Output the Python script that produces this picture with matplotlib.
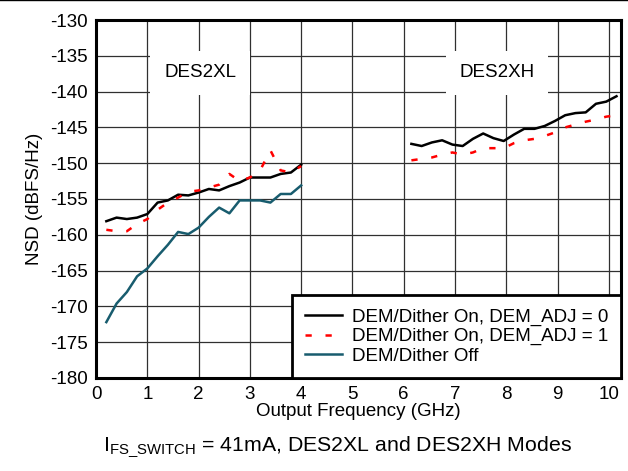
import numpy as np
import matplotlib.pyplot as plt
from matplotlib.lines import Line2D

plt.rcParams['font.family'] = ['Liberation Sans', 'DejaVu Sans']
plt.rcParams['mathtext.fontset'] = 'custom'
plt.rcParams['mathtext.rm'] = 'Liberation Sans'
plt.rcParams['axes.unicode_minus'] = False

# DES2XL (left) data
freq_xl = [0.2, 0.4, 0.6, 0.8, 1.0, 1.2, 1.4, 1.6, 1.8, 2.0,
           2.2, 2.4, 2.6, 2.8, 3.0, 3.2, 3.4, 3.6, 3.8, 4.0]
adj0_xl = [-158.1, -157.6, -157.8, -157.6, -157.1, -155.5, -155.2, -154.4, -154.5, -154.1,
           -153.6, -153.8, -153.2, -152.7, -152.0, -152.0, -152.0, -151.5, -151.3, -150.2]
adj1_xl = [-159.3, -159.5, -159.5, -158.5, -157.8, -156.5, -155.5, -154.8, -154.0, -153.8,
           -153.4, -153.0, -151.5, -152.5, -152.0, -151.0, -148.2, -151.0, -151.3, -150.4]
off_xl = [-172.2, -169.6, -168.0, -165.8, -164.7, -163.0, -161.4, -159.6, -159.9, -159.0,
          -157.5, -156.2, -157.0, -155.2, -155.2, -155.2, -155.5, -154.3, -154.3, -153.1]

# DES2XH (right) data
freq_xh = [6.15, 6.35, 6.55, 6.75, 6.95, 7.15, 7.35, 7.55, 7.75, 7.95, 8.15,
           8.35, 8.55, 8.75, 8.95, 9.15, 9.35, 9.55, 9.75, 9.95, 10.15]
adj0_xh = [-147.3, -147.6, -147.1, -146.8, -147.4, -147.6, -146.6, -145.85, -146.5, -146.9, -146.0,
           -145.2, -145.2, -144.8, -144.1, -143.3, -143.0, -142.9, -141.7, -141.4, -140.65]
adj1_xh = [-149.6, -149.4, -149.2, -148.8, -148.5, -148.8, -148.5, -147.9, -147.9, -147.9, -147.2,
           -146.8, -146.6, -146.2, -145.7, -145.0, -144.6, -144.2, -143.9, -143.5, -143.3]

xticks = list(range(0, 11))
yticks = list(range(-180, -129, 5))

teal = '#185C6E'

fig = plt.figure(figsize=(6.28, 4.71), dpi=100)
ax = fig.add_axes([0.153, 0.1975, 0.836, 0.76])

# Curves
ax.plot(freq_xl, adj0_xl, color='black', lw=1.8, label='DEM/Dither On, DEM_ADJ = 0')
ax.plot(freq_xh, adj0_xh, color='black', lw=1.8)
ax.plot(freq_xl, adj1_xl, color='red', lw=1.8, dashes=(2.5, 5.5),
        label='DEM/Dither On, DEM_ADJ = 1')
ax.plot(freq_xh, adj1_xh, color='red', lw=1.8, dashes=(2.5, 5.5))
ax.plot(freq_xl, off_xl, color=teal, lw=1.8, label='DEM/Dither Off')

ax.set_xlim(0, 10.24)
ax.set_ylim(-180, -130)
ax.set_xticks(xticks)
ax.set_yticks(yticks)
ax.tick_params(length=0, labelsize=13.5, pad=6)
ax.grid(True, color='#303030', lw=0.9)
ax.set_axisbelow(True)
for s in ax.spines.values():
    s.set_linewidth(2.2)

ax.set_xlabel('Output Frequency (GHz)', fontsize=13.5, labelpad=0)
ax.set_ylabel('NSD (dBFS/Hz)', fontsize=13.5, labelpad=5)

# Mode labels with white boxes
ax.text(2.03, -137.4, 'DES2XL', fontsize=13.5, ha='center', va='center',
        bbox=dict(facecolor='white', edgecolor='none', pad=10))
ax.text(7.82, -137.4, 'DES2XH', fontsize=13.5, ha='center', va='center',
        bbox=dict(facecolor='white', edgecolor='none', pad=10))

leg = ax.legend(loc='lower right', borderaxespad=0, fancybox=False, fontsize=13.5,
                handlelength=2.0, handletextpad=0.5, labelspacing=0.12,
                borderpad=0.7, framealpha=1)
leg.get_frame().set_edgecolor('black')
leg.get_frame().set_linewidth(2)

fig.text(0.538, 0.049, r'I$_{\mathrm{FS\_SWITCH}}$ = 41mA, DES2XL and DES2XH Modes',
         ha='center', va='center', fontsize=15.3)

fig.add_artist(Line2D([0, 1], [0.999, 0.999], color='black', lw=1,
                      transform=fig.transFigure))

fig.savefig('out.png', dpi=100)
